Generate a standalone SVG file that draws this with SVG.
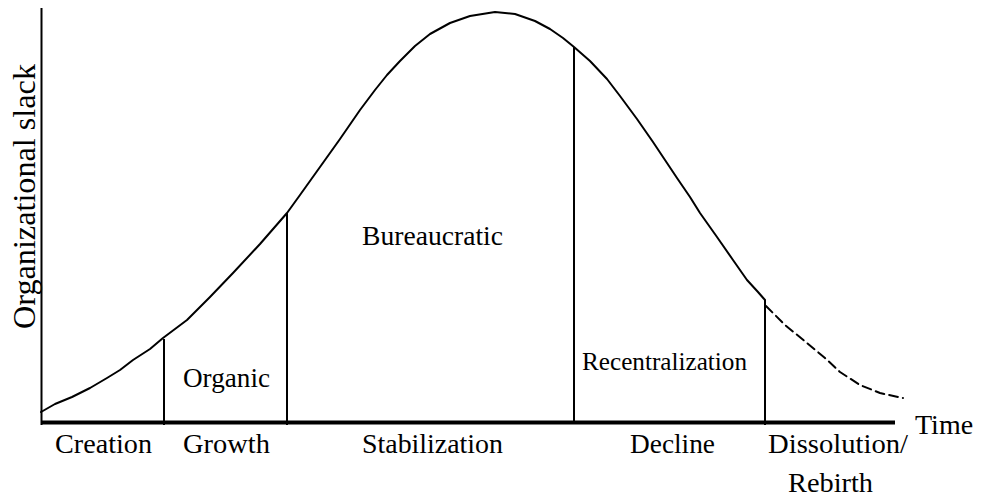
<svg xmlns="http://www.w3.org/2000/svg" width="983" height="498" viewBox="0 0 983 498">
<style>
.t{font-family:"Liberation Serif","Times New Roman",serif;fill:#000;font-size:28px}
.ln{stroke:#000;fill:none;stroke-width:2}
.cv{stroke:#000;fill:none;stroke-width:2;stroke-linejoin:round;stroke-linecap:round}
</style>
<rect width="983" height="498" fill="#fff"/>
<g id="axes">
<line class="ln" x1="41.5" y1="8" x2="41.5" y2="425"/>
<line x1="41" y1="422.5" x2="895" y2="422.5" stroke="#000" stroke-width="4"/>
<text class="t" x="915" y="434">Time</text>
<text class="t" transform="translate(35,329) rotate(-90)" textLength="265" lengthAdjust="spacingAndGlyphs" style="font-size:32px">Organizational slack</text>
</g>
<g id="connectors">
<polyline class="cv" points="41,412 55,404 72,397 90,388 107,378 120,370 133,360 150,349 163,338 175,329 187,320 210,297 233,273 260,244 287,213 300,195 320,167 340,139 360,110 375,90 387,75 400,61 415,46 430,34 450,23 470,16 495,12 515,14 535,21 550,29 563,38 574,47 590,61 607,79 620,96 637,119 653,142 665,160 677,178 690,197 700,213 717,237 733,260 747,280 758,292 765,300"/>
<polyline class="cv" stroke-dasharray="9 5" points="766,306 785,325 807,343 825,358 840,372 860,385 880,393 903,398"/>
<line class="ln" x1="164" y1="339" x2="164" y2="425"/>
<line class="ln" x1="287" y1="213" x2="287" y2="425"/>
<line class="ln" x1="574" y1="47" x2="574" y2="422"/>
<line class="ln" x1="765" y1="300" x2="765" y2="425"/>
</g>
<g id="creation"><text class="t" x="55" y="453" textLength="97" lengthAdjust="spacingAndGlyphs">Creation</text></g>
<g id="growth"><text class="t" x="183" y="453" textLength="87" lengthAdjust="spacingAndGlyphs">Growth</text></g>
<g id="stabilization"><text class="t" x="362" y="453" textLength="141" lengthAdjust="spacingAndGlyphs">Stabilization</text></g>
<g id="decline"><text class="t" x="630" y="453" textLength="85" lengthAdjust="spacingAndGlyphs">Decline</text></g>
<g id="dissolution"><text class="t" x="768" y="453" textLength="140" lengthAdjust="spacingAndGlyphs">Dissolution/</text><text class="t" x="788" y="492" textLength="85" lengthAdjust="spacingAndGlyphs">Rebirth</text></g>
<g id="organic"><text class="t" x="183" y="387" textLength="87" lengthAdjust="spacingAndGlyphs">Organic</text></g>
<g id="bureaucratic"><text class="t" x="362" y="245" textLength="141" lengthAdjust="spacingAndGlyphs">Bureaucratic</text></g>
<g id="recentralization"><text class="t" x="582" y="370" style="font-size:26px" textLength="165" lengthAdjust="spacingAndGlyphs">Recentralization</text></g>
</svg>
